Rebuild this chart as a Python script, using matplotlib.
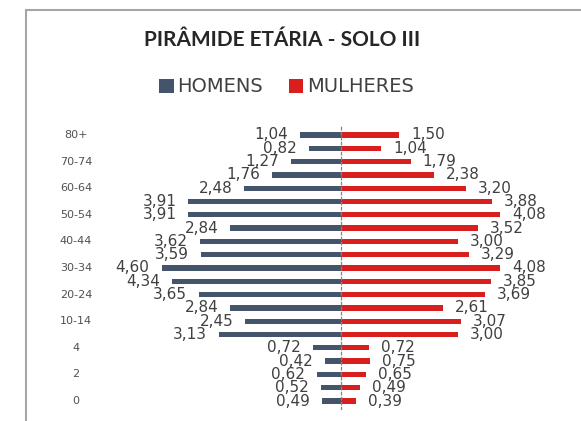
import matplotlib
matplotlib.use("Agg")
import matplotlib.pyplot as plt
from matplotlib.patches import Rectangle, Patch
from matplotlib.transforms import blended_transform_factory

plt.rcParams["font.family"] = ["DejaVu Sans"]

categories = ["0", "1", "2", "3", "4", "5-9", "10-14", "15-19", "20-24", "25-29",
              "30-34", "35-39", "40-44", "45-49", "50-54", "55-59", "60-64",
              "65-69", "70-74", "75-79", "80+"]
homens = [0.49, 0.52, 0.62, 0.42, 0.72, 3.13, 2.45, 2.84, 3.65, 4.34,
          4.60, 3.59, 3.62, 2.84, 3.91, 3.91, 2.48, 1.76, 1.27, 0.82, 1.04]
mulheres = [0.39, 0.49, 0.65, 0.75, 0.72, 3.00, 3.07, 2.61, 3.69, 3.85,
            4.08, 3.29, 3.00, 3.52, 4.08, 3.88, 3.20, 2.38, 1.79, 1.04, 1.50]
title = "PIRÂMIDE ETÁRIA - SOLO III"
series_names = ["HOMENS", "MULHERES"]

C_H = "#44546A"
C_M = "#D91E1E"
TXT = "#404040"

W, H = 581, 421
fig = plt.figure(figsize=(W / 100, H / 100), dpi=100)
fig.patch.set_facecolor("white")

# outer chart frame
fig.patches.append(Rectangle((26 / W, -0.1), 1.2, (H - 10) / H + 0.1,
                             transform=fig.transFigure, fill=False,
                             edgecolor="#A6A6A6", linewidth=1.5))

ax = fig.add_axes([100 / W, (H - 410) / H, 460 / W, (410 - 126) / H])
y = list(range(len(categories)))
ax.barh(y, [-v for v in homens], height=0.4, color=C_H)
ax.barh(y, mulheres, height=0.4, color=C_M)
ax.set_xlim(-6.18, 5.62)
ax.set_ylim(-0.675, len(categories) - 1 + 0.675)
ax.axvline(0, color="#9E7B7B", lw=0.9, ls=(0, (3, 1)))
for s in ax.spines.values():
    s.set_visible(False)
ax.set_xticks([])
ax.set_yticks([])

off = 12 / 39.0
for yi, h, m in zip(y, homens, mulheres):
    ax.text(-h - off, yi, f"{h:.2f}".replace(".", ","), ha="right", va="center",
            fontsize=11, color=TXT)
    ax.text(m + off, yi, f"{m:.2f}".replace(".", ","), ha="left", va="center",
            fontsize=11, color=TXT)

tr = blended_transform_factory(fig.transFigure, ax.transData)
for yi, c in zip(y, categories):
    if yi % 2 == 0:
        ax.text(76 / W, yi, c, transform=tr, ha="center", va="center",
                fontsize=8, color="#505050")

fig.text(282.5 / W, 1 - 40 / H, title, ha="center", va="center",
         fontsize=15, fontweight="bold", family="Lato", color="#262626")

handles = [Patch(facecolor=C_H), Patch(facecolor=C_M)]
fig.legend(handles, series_names, loc="center", bbox_to_anchor=(286.5 / W, 1 - 87 / H),
           ncol=2, frameon=False, fontsize=14, handlelength=0.75, handleheight=0.75,
           handletextpad=0.2, columnspacing=1.3, labelcolor=TXT, borderpad=0)

fig.savefig("out.png", dpi=100)
